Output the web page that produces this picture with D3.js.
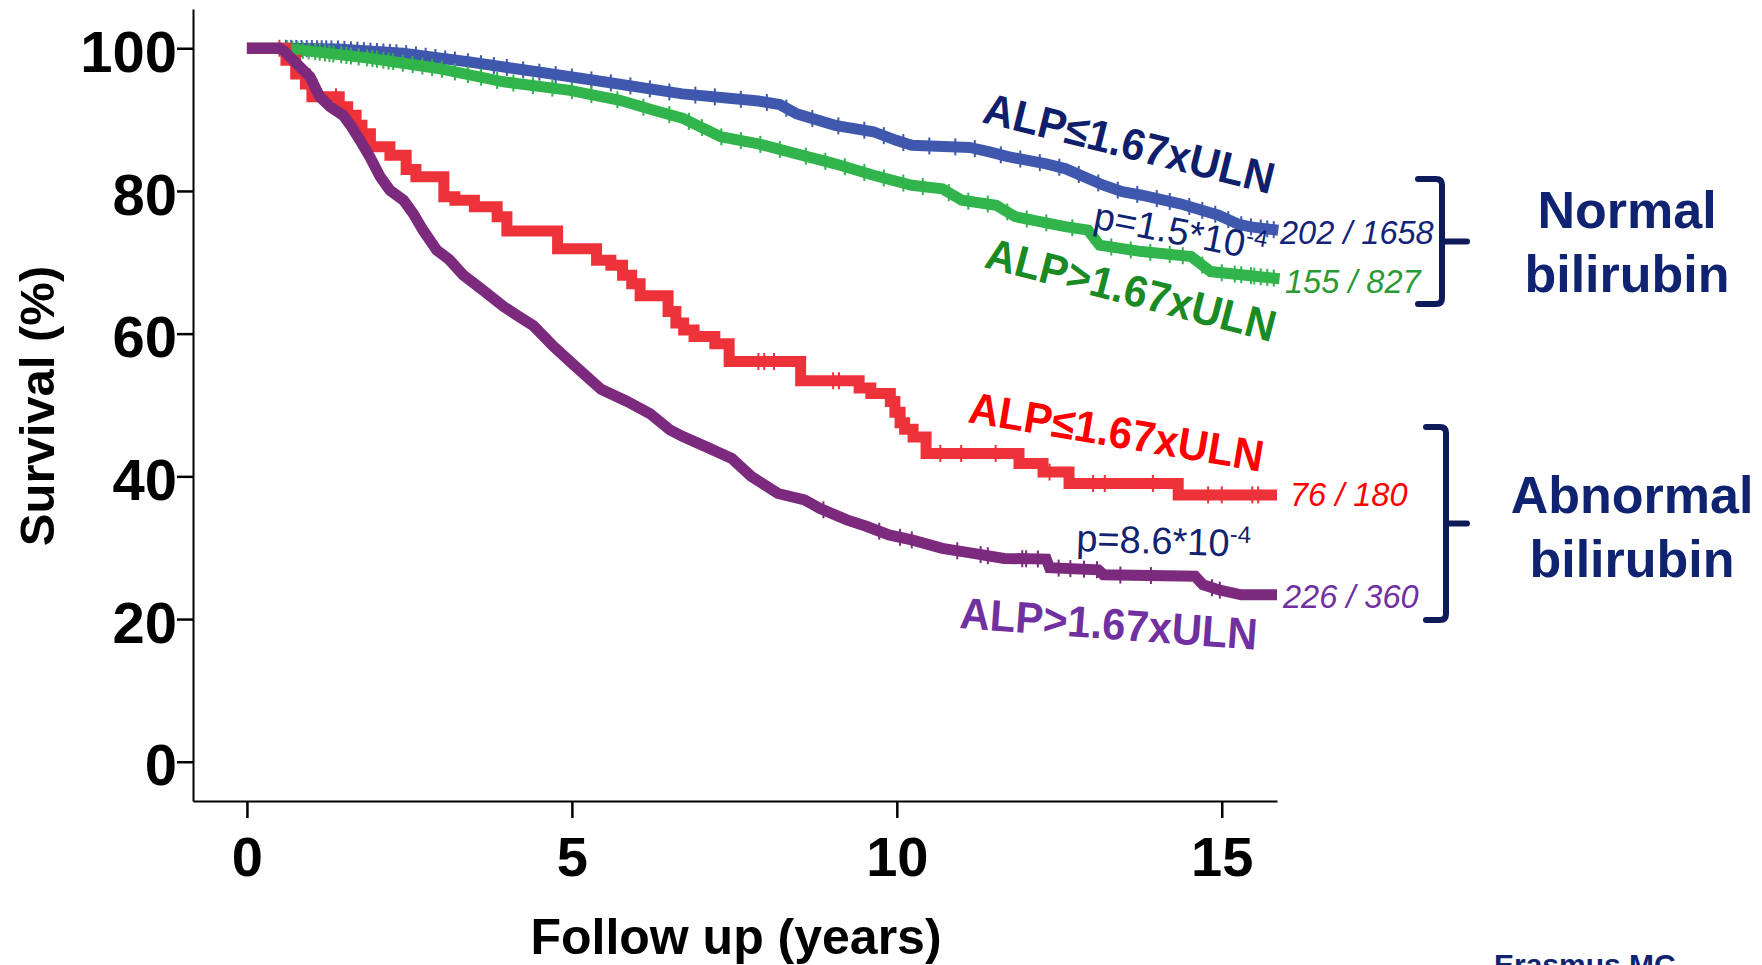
<!DOCTYPE html>
<html>
<head>
<meta charset="utf-8">
<script src="https://cdn.jsdelivr.net/npm/d3@7"></script>
<style>
  body { margin: 0; background: #fff; }
  svg { display: block; font-family: "Liberation Sans", Arial, sans-serif; }
</style>
</head>
<body>
<svg id="chart" width="1762" height="965"></svg>
<script>
// ticks
const xTicks = [0, 5, 10, 15];
const yTicks = [0, 20, 40, 60, 80, 100];

// Kaplan-Meier curves (years, survival %)
const blueT = [0, 0.55, 1.4, 2.4, 3.4, 4.46, 5.49, 6.7, 7.3, 7.87, 8.2, 8.46, 9.05, 9.64, 9.99, 10.23, 10.82, 11.12, 11.41, 11.71, 12.3, 12.6, 12.88, 13.18, 13.47, 13.77, 14.36, 14.95, 15.24, 15.42, 15.87];
const blueS = [100, 100, 99.9, 99.3, 98.1, 96.7, 95.3, 93.6, 93.1, 92.6, 92.1, 90.8, 89.2, 88.3, 87.1, 86.4, 86.2, 86.1, 85.5, 84.8, 83.8, 83.1, 82.0, 80.8, 79.9, 79.4, 78.2, 76.6, 75.4, 75.0, 74.5];

const greenT = [0, 0.55, 0.87, 1.89, 2.92, 3.95, 4.97, 5.74, 6.26, 6.7, 7.29, 7.87, 8.46, 9.05, 9.64, 10.23, 10.7, 11.0, 11.53, 11.82, 12.59, 12.94, 13.12, 13.77, 14.53, 14.83, 15.89];
const greenS = [100, 100, 99.7, 98.6, 97.2, 95.3, 94.1, 92.7, 91.3, 90.2, 87.6, 86.6, 85.2, 83.8, 82.2, 80.8, 80.3, 78.7, 78.0, 76.4, 75.0, 74.5, 72.4, 71.5, 70.8, 68.7, 67.7];

// red is drawn as a step function
const redT = [0, 0.6, 0.75, 0.9, 1.0, 1.42, 1.55, 1.68, 1.77, 1.9, 2.2, 2.45, 2.6, 3.03, 3.2, 3.5, 3.85, 4.0, 4.78, 5.38, 5.6, 5.78, 5.92, 6.05, 6.48, 6.6, 6.72, 6.88, 7.2, 7.42, 8.52, 9.42, 9.6, 9.9, 9.97, 10.05, 10.12, 10.25, 10.45, 11.88, 12.25, 12.65, 14.33, 15.85];
const redS = [100, 98.3, 96.4, 95.0, 93.2, 91.8, 90.6, 89.2, 88.0, 86.2, 85.0, 83.0, 82.0, 79.2, 78.7, 77.8, 76.4, 74.4, 71.9, 70.3, 69.6, 68.2, 67.0, 65.3, 63.1, 61.5, 60.5, 59.6, 58.6, 56.1, 53.4, 52.4, 51.6, 50.5, 49.0, 47.5, 46.6, 45.5, 43.2, 41.8, 40.6, 39.0, 37.4, 37.4];

const purpleT = [0, 0.5, 0.56, 0.97, 1.12, 1.28, 1.48, 1.61, 1.74, 1.89, 2.05, 2.2, 2.41, 2.56, 2.71, 2.92, 3.11, 3.33, 3.63, 3.95, 4.15, 4.41, 4.72, 5.08, 5.45, 5.85, 6.2, 6.51, 6.7, 7.05, 7.46, 7.76, 8.17, 8.58, 8.82, 9.23, 9.53, 9.88, 10.23, 10.7, 11.18, 11.65, 12.3, 12.35, 13.1, 13.18, 14.59, 14.71, 14.95, 15.3, 15.85];
const purpleS = [100, 100, 99.7, 96.0, 93.2, 91.8, 90.6, 89.0, 87.1, 84.8, 82.0, 80.1, 78.7, 76.8, 74.5, 71.7, 70.4, 68.2, 66.1, 63.8, 62.6, 61.1, 58.2, 55.2, 52.2, 50.5, 48.8, 46.5, 45.6, 44.2, 42.5, 40.0, 37.6, 36.7, 35.5, 33.9, 33.0, 31.8, 31.1, 29.9, 29.2, 28.5, 28.4, 27.2, 26.9, 26.2, 26.0, 24.8, 24.1, 23.4, 23.4];

// censoring marks (years)
const blueCensor = [0.6, 0.68, 0.76, 0.84, 0.92, 1.0, 1.08, 1.15, 1.22, 1.3, 1.4, 1.5, 1.6, 1.7, 1.8, 1.9, 2.0, 2.1, 2.2, 2.3, 2.45, 2.6, 2.75, 2.9, 3.05, 3.2, 3.4, 3.6, 3.8, 4.0, 4.25, 4.5, 4.75, 5.0, 5.3, 5.6, 5.9, 6.2, 6.5, 6.9, 7.2, 7.6, 8.0, 8.3, 8.7, 9.1, 9.5, 9.8, 10.1, 10.5, 10.9, 11.2, 11.6, 11.9, 12.2, 12.5, 12.8, 13.1, 13.4, 13.7, 14.0, 14.2, 14.5, 14.7, 14.9, 15.1, 15.3, 15.45, 15.6, 15.7, 15.8];
const greenCensor = [0.62, 0.7, 0.78, 0.86, 0.95, 1.05, 1.12, 1.2, 1.27, 1.33, 1.45, 1.53, 1.6, 1.72, 1.85, 1.93, 2.0, 2.1, 2.18, 2.25, 2.4, 2.55, 2.7, 2.85, 3.0, 3.2, 3.4, 3.6, 3.85, 4.1, 4.4, 4.7, 5.0, 5.3, 5.7, 6.1, 6.5, 6.8, 7.0, 7.3, 7.6, 7.9, 8.2, 8.6, 8.9, 9.2, 9.5, 9.8, 10.1, 10.4, 10.8, 11.1, 11.4, 11.7, 12.0, 12.3, 12.7, 13.0, 13.3, 13.6, 13.9, 14.2, 14.4, 14.7, 15.0, 15.2, 15.3, 15.45, 15.5, 15.6, 15.7, 15.8];
const redCensor = [0.5, 0.94, 1.37, 1.8, 1.92, 7.87, 7.96, 8.11, 9.02, 9.11, 10.67, 10.99, 11.52, 12.35, 13.02, 13.2, 13.94, 14.79, 15.0, 15.47, 15.56];
const purpleCensor = [8.87, 9.73, 10.05, 10.23, 10.93, 11.29, 11.4, 11.93, 11.99, 12.17, 12.49, 12.67, 12.88, 13.08, 13.44, 13.91, 14.85, 14.97];

// labels
const seriesLabels = ['ALP≤1.67xULN', 'ALP>1.67xULN', 'ALP≤1.67xULN', 'ALP>1.67xULN'];
const seriesCounts = ['202 / 1658', '155 / 827', '76 / 180', '226 / 360'];
const groupLabels = [['Normal', 'bilirubin'], ['Abnormal', 'bilirubin']];

const navy = '#102370';

const svg = d3.select('#chart');

const x = d3.scaleLinear().domain([-0.83, 15.85]).range([193, 1277]);
const y = d3.scaleLinear().domain([-5.5, 105.5]).range([801, 9]);

// axes
const yAxis = svg.append('g')
    .attr('transform', 'translate(193,0)')
    .call(d3.axisLeft(y).tickValues(yTicks).tickSize(16).tickSizeOuter(0).tickPadding(0));
const xAxis = svg.append('g')
    .attr('transform', 'translate(0,801)')
    .call(d3.axisBottom(x).tickValues(xTicks).tickSize(17).tickSizeOuter(0).tickPadding(18));

[yAxis, xAxis].forEach(g => {
    g.attr('font-family', '"Liberation Sans", Arial, sans-serif')
        .attr('font-weight', 'bold');
    g.select('.domain').attr('stroke', '#000').attr('stroke-width', 2);
    g.selectAll('.tick line').attr('stroke', '#000').attr('stroke-width', 2.5);
    g.selectAll('.tick text').attr('fill', '#000');
});
yAxis.attr('font-size', 58);
yAxis.selectAll('.tick text').attr('dy', '0.4em');
xAxis.attr('font-size', 56);

svg.append('text')
    .attr('transform', 'translate(54,406) rotate(-90)')
    .attr('text-anchor', 'middle')
    .attr('font-size', 49)
    .attr('font-weight', 'bold')
    .text('Survival (%)');

svg.append('text')
    .attr('x', 736).attr('y', 954)
    .attr('text-anchor', 'middle')
    .attr('font-size', 50)
    .attr('font-weight', 'bold')
    .text('Follow up (years)');

// curves
const series = [
    {T: blueT, S: blueS, censor: blueCensor, color: '#3f58ae', step: false},
    {T: greenT, S: greenS, censor: greenCensor, color: '#31b44b', step: false},
    {T: redT, S: redS, censor: redCensor, color: '#ee3239', step: true},
    {T: purpleT, S: purpleS, censor: purpleCensor, color: '#7b2a7d', step: false},
];

const survAt = (s, t) => {
    const i = d3.bisectRight(s.T, t);
    if (i <= 0) return s.S[0];
    if (i >= s.T.length || s.step) return s.S[i - 1];
    const t0 = s.T[i - 1], t1 = s.T[i];
    return s.S[i - 1] + (s.S[i] - s.S[i - 1]) * (t - t0) / (t1 - t0);
};

series.forEach(s => {
    const line = d3.line()
        .x(d => x(d[0]))
        .y(d => y(d[1]))
        .curve(s.step ? d3.curveStepAfter : d3.curveLinear);
    svg.append('path')
        .datum(s.T.map((t, i) => [t, s.S[i]]))
        .attr('fill', 'none')
        .attr('stroke', s.color)
        .attr('stroke-width', 11)
        .attr('stroke-linejoin', 'miter')
        .attr('d', line);
    svg.append('g').selectAll('line')
        .data(s.censor)
        .enter()
        .append('line')
        .attr('x1', d => x(d)).attr('x2', d => x(d))
        .attr('y1', d => y(survAt(s, d)) - 8.5)
        .attr('y2', d => y(survAt(s, d)) + 8.5)
        .attr('stroke', s.color)
        .attr('stroke-width', 2);
});

// curve labels
const labelPos = [
    {x: 981, y: 122, a: 14, c: '#0f1f6c'},
    {x: 983, y: 267, a: 14.6, c: '#1a8a25'},
    {x: 967, y: 422, a: 9.6, c: '#ff0000'},
    {x: 959, y: 628, a: 4.2, c: '#7030a0'},
];
seriesLabels.forEach((lab, i) => {
    const p = labelPos[i];
    svg.append('text')
        .attr('transform', 'translate(' + p.x + ',' + p.y + ') rotate(' + p.a + ')')
        .attr('font-size', 44)
        .attr('font-weight', 'bold')
        .attr('fill', p.c)
        .attr('textLength', 298)
        .attr('lengthAdjust', 'spacingAndGlyphs')
        .text(lab);
});

// numbers at curve ends
const countPos = [
    {x: 1280, y: 244, c: '#13237a'},
    {x: 1285, y: 293, c: '#2a9a35'},
    {x: 1290, y: 506, c: '#ff0000'},
    {x: 1283, y: 608, c: '#7030a0'},
];
seriesCounts.forEach((txt, i) => {
    svg.append('text')
        .attr('x', countPos[i].x).attr('y', countPos[i].y)
        .attr('font-size', 32.5)
        .attr('font-style', 'italic')
        .attr('fill', countPos[i].c)
        .text(txt);
});

// p values
const pVals = [
    {base: 'p=1.5*10', exp: '-4', x: 1092, y: 228, a: 11},
    {base: 'p=8.6*10', exp: '-4', x: 1076, y: 551, a: 2},
];
pVals.forEach(p => {
    const t = svg.append('text')
        .attr('transform', 'translate(' + p.x + ',' + p.y + ') rotate(' + p.a + ')')
        .attr('font-size', 38)
        .attr('fill', navy);
    t.append('tspan').text(p.base);
    t.append('tspan').attr('font-size', 24).attr('dy', -14).text(p.exp);
});

// braces and group names
const braces = [
    {top: 179, bot: 304, x0: 1418, vx: 1442, tip: 1467, tx: 1627, ty: 228},
    {top: 427, bot: 620, x0: 1426, vx: 1446, tip: 1467, tx: 1632, ty: 513},
];
braces.forEach((b, i) => {
    const mid = (b.top + b.bot) / 2;
    svg.append('path')
        .attr('d', 'M' + b.x0 + ',' + b.top + ' H' + (b.vx - 6) + ' Q' + b.vx + ',' + b.top + ' ' + b.vx + ',' + (b.top + 6) +
            ' V' + (b.bot - 6) + ' Q' + b.vx + ',' + b.bot + ' ' + (b.vx - 6) + ',' + b.bot + ' H' + b.x0 +
            ' M' + b.vx + ',' + mid + ' H' + b.tip)
        .attr('fill', 'none')
        .attr('stroke', '#0d1b5a')
        .attr('stroke-width', 6)
        .attr('stroke-linecap', 'round');
    groupLabels[i].forEach((w, j) => {
        svg.append('text')
            .attr('x', b.tx).attr('y', b.ty + j * 64)
            .attr('text-anchor', 'middle')
            .attr('font-size', 52)
            .attr('font-weight', 'bold')
            .attr('fill', navy)
            .text(w);
    });
});

// logo text cut by the bottom edge, as in the source slide
svg.append('text')
    .attr('x', 1494).attr('y', 975)
    .attr('font-size', 30)
    .attr('font-weight', 'bold')
    .attr('fill', navy)
    .text('Erasmus MC');
</script>
</body>
</html>
